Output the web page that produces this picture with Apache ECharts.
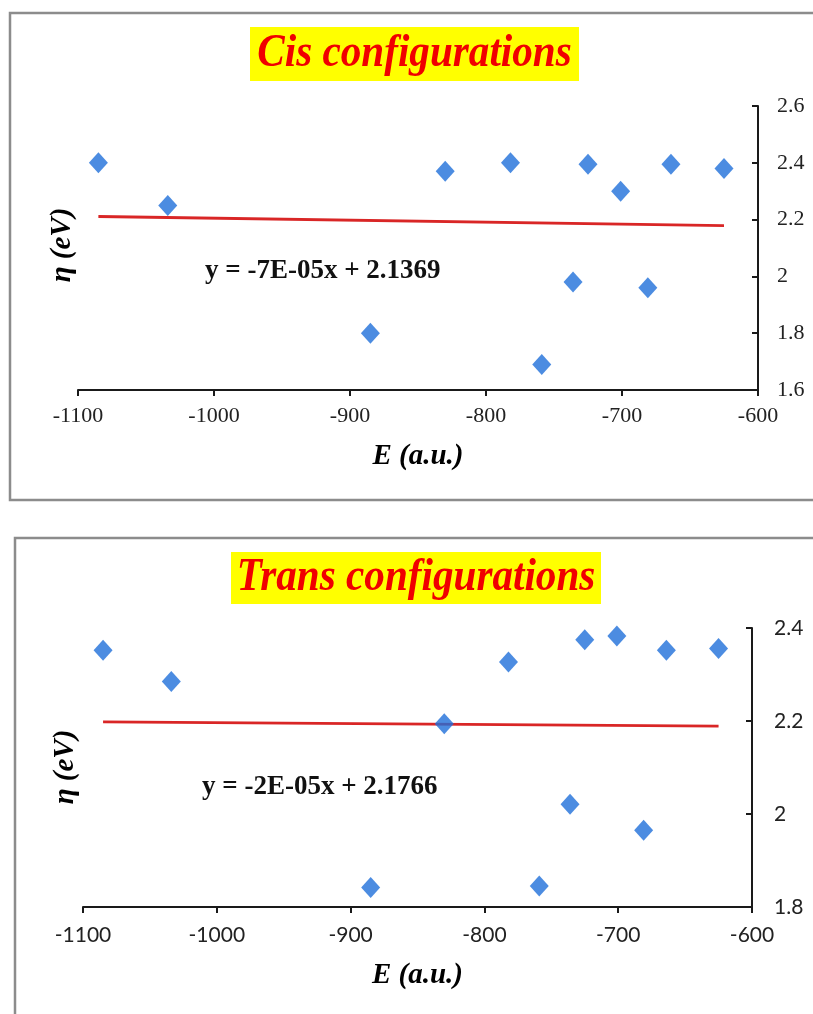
<!DOCTYPE html>
<html>
<head>
<meta charset="utf-8">
<title>Cis / Trans configurations</title>
<script src="https://cdn.jsdelivr.net/npm/echarts@6/dist/echarts.min.js"></script>
<style>
  html, body {
    margin: 0;
    padding: 0;
    background: #ffffff;
  }
  #chart {
    width: 813px;
    height: 1014px;
  }
</style>
</head>
<body>
<div id="chart"></div>
<script>
// E (a.u.) of the complexes, same for both panels
const energies = [-1085, -1034, -885, -830, -782, -759, -736, -725, -701, -681, -664, -625];
// η (eV)
const cisEta = [2.40, 2.25, 1.80, 2.37, 2.40, 1.69, 1.98, 2.395, 2.30, 1.96, 2.395, 2.38];
const transEta = [2.352, 2.285, 1.842, 2.194, 2.327, 1.845, 2.021, 2.375, 2.383, 1.965, 2.352, 2.356];
// linear trend lines, end points
const cisTrend = [[-1085, 2.211], [-625, 2.179]];
const transTrend = [[-1085, 2.198], [-625, 2.189]];
const cisEquation = 'y = -7E-05x + 2.1369';
const transEquation = 'y = -2E-05x + 2.1766';
const xTicks = { min: -1100, max: -600, interval: 100 };
const cisTicks = { min: 1.6, max: 2.6, interval: 0.2 };
const transTicks = { min: 1.8, max: 2.4, interval: 0.2 };

const serif = "'Liberation Serif', 'Times New Roman', serif";
const sans = "Lato, 'Open Sans', sans-serif";
const axisColor = '#1a1a1a';

function zip(xs, ys) {
  return xs.map((x, i) => [x, ys[i]]);
}

function xAxisFor(gridIndex, font, size, margin, nameGap) {
  return {
    gridIndex: gridIndex,
    type: 'value',
    min: xTicks.min,
    max: xTicks.max,
    interval: xTicks.interval,
    name: 'E (a.u.)',
    nameLocation: 'middle',
    nameGap: nameGap,
    nameTextStyle: {
      fontFamily: serif, fontSize: 29, fontWeight: 'bold', fontStyle: 'italic', color: '#000'
    },
    axisLine: { show: true, onZero: false, lineStyle: { color: axisColor, width: 2 } },
    axisTick: { show: true, length: 6, lineStyle: { color: axisColor, width: 2 } },
    axisLabel: {
      margin: margin, fontFamily: font, fontSize: size, color: '#222',
      showMinLabel: true, showMaxLabel: true,
      formatter: v => String(v)
    },
    splitLine: { show: false }
  };
}

function yAxisFor(gridIndex, ticks, font, size, margin) {
  return {
    gridIndex: gridIndex,
    type: 'value',
    position: 'right',
    min: ticks.min,
    max: ticks.max,
    interval: ticks.interval,
    axisLine: { show: true, onZero: false, lineStyle: { color: axisColor, width: 2 } },
    axisTick: { show: true, inside: true, length: 6, lineStyle: { color: axisColor, width: 2 } },
    axisLabel: {
      margin: margin, fontFamily: font, fontSize: size, color: '#222',
      showMinLabel: true, showMaxLabel: true,
      formatter: v => String(Math.round(v * 10) / 10)
    },
    splitLine: { show: false }
  };
}

function titleBox(x, y, w, h, text) {
  return [
    { type: 'rect', shape: { x: x, y: y, width: w, height: h }, style: { fill: '#ffff00' }, z: 1 },
    {
      type: 'text', x: x + w / 2, y: y + h / 2, z: 2,
      scaleX: 0.98, scaleY: 1.08,
      style: {
        text: text, fill: '#f00000', align: 'center', verticalAlign: 'middle',
        font: "italic bold 42px 'Liberation Serif', 'Times New Roman', serif"
      }
    }
  ];
}

function yName(x, y) {
  return {
    type: 'text', x: x, y: y, rotation: Math.PI / 2,
    style: {
      text: 'η (eV)', fill: '#000', align: 'center', verticalAlign: 'middle',
      font: "italic bold 29px 'Liberation Serif', 'Times New Roman', serif"
    }
  };
}

function equation(x, y, text) {
  return {
    type: 'text', x: x, y: y,
    style: {
      text: text, fill: '#111', align: 'left', verticalAlign: 'middle',
      font: "bold 27px 'Liberation Serif', 'Times New Roman', serif"
    }
  };
}

const chart = echarts.init(document.getElementById('chart'));

chart.setOption({
  animation: false,
  backgroundColor: '#ffffff',
  grid: [
    { left: 78, top: 106, width: 680, height: 284 },
    { left: 83, top: 628, width: 669, height: 279 }
  ],
  xAxis: [
    xAxisFor(0, serif, 22, 15, 52),
    xAxisFor(1, sans, 21, 18, 54)
  ],
  yAxis: [
    yAxisFor(0, cisTicks, serif, 22, 19),
    yAxisFor(1, transTicks, sans, 21, 22)
  ],
  graphic: [
    // panel frames
    { type: 'rect', shape: { x: 10, y: 13, width: 830, height: 487 }, style: { fill: 'none', stroke: '#8c8c8c', lineWidth: 2.5 } },
    { type: 'rect', shape: { x: 15, y: 538, width: 830, height: 500 }, style: { fill: 'none', stroke: '#8c8c8c', lineWidth: 2.5 } },
    ...titleBox(250, 27, 329, 54, 'Cis configurations'),
    ...titleBox(231, 552, 370, 52, 'Trans configurations'),
    yName(63, 245),
    yName(66, 767),
    equation(205, 271, cisEquation),
    equation(202, 787, transEquation)
  ],
  series: [
    {
      name: 'Cis',
      type: 'scatter',
      xAxisIndex: 0,
      yAxisIndex: 0,
      symbol: 'diamond',
      symbolSize: [19, 21],
      itemStyle: { color: '#1f6fd9' },
      data: zip(energies, cisEta),
      z: 3
    },
    {
      name: 'Cis trend',
      type: 'line',
      xAxisIndex: 0,
      yAxisIndex: 0,
      showSymbol: false,
      lineStyle: { color: '#d92626', width: 2.8 },
      data: cisTrend,
      z: 2
    },
    {
      name: 'Trans',
      type: 'scatter',
      xAxisIndex: 1,
      yAxisIndex: 1,
      symbol: 'diamond',
      symbolSize: [19, 21],
      itemStyle: { color: '#1f6fd9' },
      data: zip(energies, transEta),
      z: 3
    },
    {
      name: 'Trans trend',
      type: 'line',
      xAxisIndex: 1,
      yAxisIndex: 1,
      showSymbol: false,
      lineStyle: { color: '#d92626', width: 2.8 },
      data: transTrend,
      z: 2
    }
  ]
});
</script>
</body>
</html>
